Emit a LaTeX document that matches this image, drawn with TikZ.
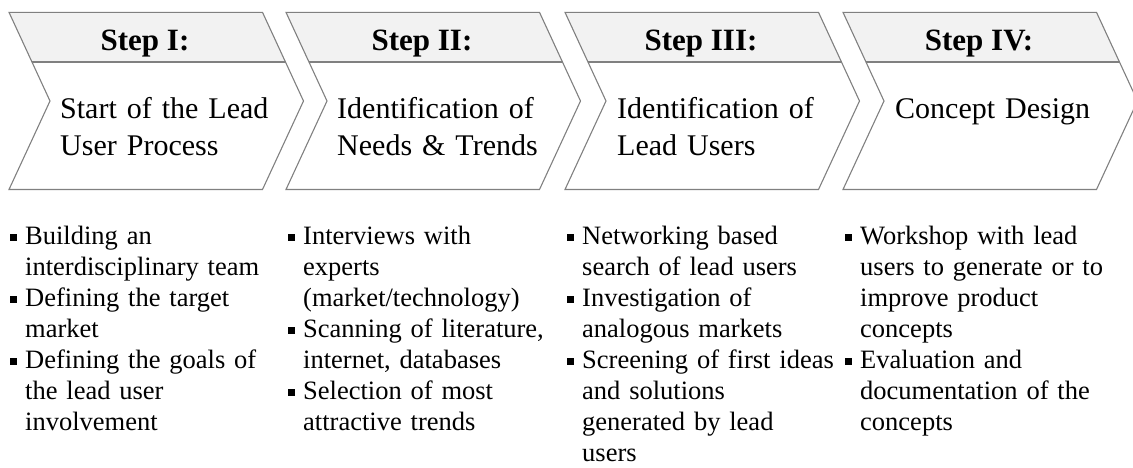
\documentclass[tikz,border=0pt]{standalone}
\usepackage{fontspec}
\setmainfont{Liberation Serif}
\definecolor{edgegray}{HTML}{808080}
\definecolor{bandgray}{HTML}{F2F2F2}
\tikzset{
x=1pt,
y=-1pt,
outline/.style={draw=edgegray, line width=1.1pt, line join=miter},
steptitle/.style={font=\fontsize{31}{37}\selectfont\bfseries, inner sep=0pt, anchor=base},
stepname/.style={font=\fontsize{30}{37}\selectfont, text width=240pt, inner sep=0pt, anchor=base west},
bullets/.style={font=\fontsize{26.5}{31}\selectfont, text width=280pt, inner sep=0pt, anchor=base west},
}
% one chevron, #1 = left x
\newcommand{\chevronshape}[1]{
  \fill[bandgray] (#1,12.3) -- (#1+253.5,12.3) -- (#1+276.5,62) -- (#1+23,62) -- cycle;
  \draw[outline] (#1+23,62) -- (#1+276.5,62);
  \draw[outline] (#1,12.3) -- (#1+253.5,12.3) -- (#1+294.5,101) -- (#1+253.5,189.5)
    -- (#1,189.5) -- (#1+41,101) -- cycle;
}
\newcommand{\bitem}{\hangindent=15pt\hangafter=1\noindent\makebox[15pt][l]{\rule[3pt]{7pt}{7pt}}}

\begin{document}
\begin{tikzpicture}
    \useasboundingbox (0,0) rectangle (1133,467);

    \chevronshape{9}
    \chevronshape{286}
    \chevronshape{565}
    \chevronshape{843}

    \node[steptitle] (t1) at (145,50) {Step I:};
    \node[steptitle] (t2) at (422,50) {Step II:};
    \node[steptitle] (t3) at (701,50) {Step III:};
    \node[steptitle] (t4) at (979,50) {Step IV:};

    \node[stepname] (s1) at (60,118.3) {\noindent Start of the Lead\newline User Process};
    \node[stepname] (s2) at (337,118.3) {\noindent Identification of\newline Needs \& Trends};
    \node[stepname] (s3) at (617,118.3) {\noindent Identification of\newline Lead Users};
    \node[stepname] (s4) at (895,118.3) {\noindent Concept Design};

    \node[bullets] (b1) at (10,244) {\bitem Building an\newline interdisciplinary team\par
      \bitem Defining the target\newline market\par
      \bitem Defining the goals of\newline the lead user\newline involvement\par};
    \node[bullets] (b2) at (288,244) {\bitem Interviews with\newline experts\newline (market/technology)\par
      \bitem Scanning of literature,\newline internet, databases\par
      \bitem Selection of most\newline attractive trends\par};
    \node[bullets] (b3) at (567,244) {\bitem Networking based\newline search of lead users\par
      \bitem Investigation of\newline analogous markets\par
      \bitem Screening of first ideas\newline and solutions\newline generated by lead\newline users\par};
    \node[bullets] (b4) at (845,244) {\bitem Workshop with lead\newline users to generate or to\newline improve product\newline concepts\par
      \bitem Evaluation and\newline documentation of the\newline concepts\par};

\end{tikzpicture}
\end{document}
